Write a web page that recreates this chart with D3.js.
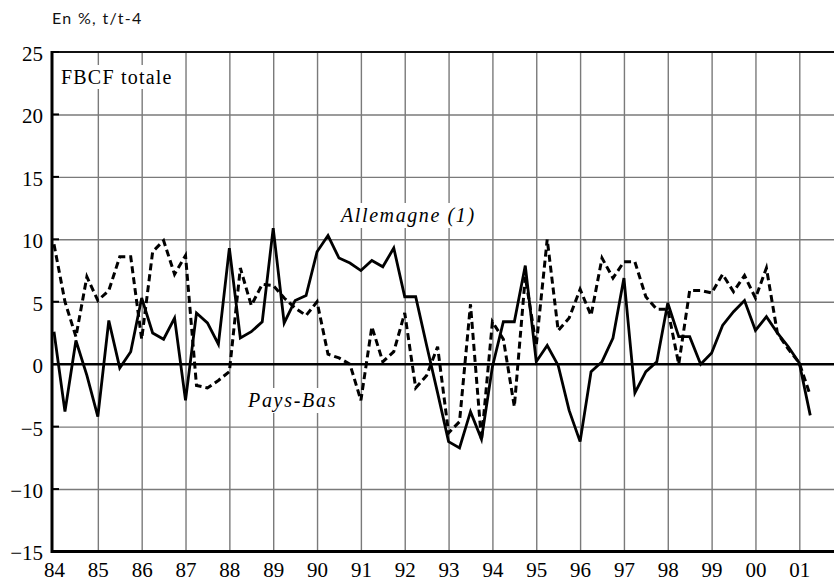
<!DOCTYPE html>
<html><head><meta charset="utf-8">
<script src="https://cdn.jsdelivr.net/npm/d3@7"></script>
<style>body{margin:0;background:#fff;} svg{display:block} .serif{font-family:"Liberation Serif";}</style>
</head><body><svg id="c" width="834" height="582"></svg>
<script>
// ---- data ----
const yearTicks = [1984,1985,1986,1987,1988,1989,1990,1991,1992,1993,1994,1995,1996,1997,1998,1999,2000,2001];
const yearLabels = ["84","85","86","87","88","89","90","91","92","93","94","95","96","97","98","99","00","01"];
const yTicks = [-15,-10,-5,0,5,10,15,20,25];
const firstQuarter = 1984; // 84 T1, quarterly data
const allemagne = [
  2.6,-3.8,1.9,-0.9,
  -4.2,3.5,-0.3,1.0,
  5.3,2.5,2.0,3.7,
  -2.9,4.1,3.3,1.6,
  9.3,2.1,2.6,3.4,
  10.9,3.3,5.1,5.5,
  9.0,10.3,8.5,8.1,
  7.5,8.3,7.8,9.3,
  5.4,5.4,1.5,-2.3,
  -6.2,-6.7,-3.8,-6.0,
  -0.2,3.4,3.4,7.9,
  0.2,1.5,-0.1,-3.7,
  -6.2,-0.6,0.2,2.1,
  6.9,-2.3,-0.6,0.2,
  4.9,2.2,2.2,0.0,
  0.9,3.1,4.2,5.1,
  2.7,3.8,2.5,1.4,
  0.1,-4.1
];
const paysBas = [
  9.6,5.0,2.2,7.0,
  5.1,5.9,8.6,8.6,
  2.0,9.0,9.9,7.2,
  8.7,-1.7,-1.9,-1.3,
  -0.6,7.7,4.7,6.4,
  6.3,5.3,4.5,3.9,
  5.0,0.8,0.5,0.0,
  -2.9,3.0,0.2,1.0,
  4.1,-1.9,-0.9,1.4,
  -5.5,-4.6,4.8,-6.1,
  3.4,2.0,-3.4,7.0,
  1.5,10.0,2.7,3.7,
  6.0,3.9,8.5,6.9,
  8.2,8.2,5.4,4.4,
  4.4,0.0,5.9,5.9,
  5.7,7.2,5.8,7.1,
  5.3,7.7,2.5,1.2,
  0.1,-2.5
];

// ---- chart ----
const W = 834, H = 582;
const svg = d3.select("#c");
const x = d3.scaleLinear().domain([1984, 2001]).range([54, 799.3]);
const y = d3.scaleLinear().domain([-15, 25]).range([551.5, 52]);
const pLeft = 52, pRight = W, pTop = y(25), pBottom = y(-15);

// vertical grid
svg.append("g").attr("transform", `translate(0,${pBottom})`)
  .call(d3.axisBottom(x).tickValues(yearTicks.slice(1)).tickSize(-(pBottom - pTop)).tickFormat(""))
  .call(g => g.select(".domain").remove())
  .selectAll("line").attr("stroke", "#7a7a7a").attr("stroke-width", 1.4);

// horizontal grid
svg.append("g").attr("transform", `translate(${pLeft},0)`)
  .call(d3.axisLeft(y).tickValues(yTicks.filter(v => v !== 0 && v !== -15 && v !== 25)).tickSize(-(pRight - pLeft)).tickFormat(""))
  .call(g => g.select(".domain").remove())
  .selectAll("line").attr("stroke", "#7a7a7a").attr("stroke-width", 1.4);

// zero line, frame
svg.append("line").attr("x1", pLeft).attr("x2", pRight).attr("y1", y(0)).attr("y2", y(0))
  .attr("stroke", "#000").attr("stroke-width", 2.6);
svg.append("line").attr("x1", pLeft).attr("x2", pRight).attr("y1", pTop).attr("y2", pTop)
  .attr("stroke", "#111").attr("stroke-width", 2);

// series
svg.append("clipPath").attr("id", "pc").append("rect")
  .attr("x", pLeft).attr("y", pTop - 10).attr("width", pRight - pLeft).attr("height", pBottom - pTop + 20);
const line = d3.line().x((d, i) => x(firstQuarter + i / 4)).y(d => y(d));
svg.append("path").datum(paysBas).attr("d", line).attr("clip-path", "url(#pc)")
  .attr("fill", "none").attr("stroke", "#000").attr("stroke-width", 3)
  .attr("stroke-dasharray", "7,4").attr("stroke-linejoin", "miter");
svg.append("path").datum(allemagne).attr("d", line).attr("clip-path", "url(#pc)")
  .attr("fill", "none").attr("stroke", "#000").attr("stroke-width", 2.8)
  .attr("stroke-linejoin", "miter");

// axes lines
svg.append("line").attr("x1", pLeft).attr("x2", pRight).attr("y1", pBottom).attr("y2", pBottom)
  .attr("stroke", "#000").attr("stroke-width", 3);
svg.append("line").attr("x1", pLeft).attr("x2", pLeft).attr("y1", pTop - 1).attr("y2", pBottom + 1.5)
  .attr("stroke", "#000").attr("stroke-width", 3);

// y axis ticks + labels
const yAxis = svg.append("g").attr("transform", `translate(${pLeft},0)`)
  .call(d3.axisLeft(y).tickValues(yTicks).tickSize(0).tickPadding(9).tickFormat(d3.format("d")));
yAxis.select(".domain").remove();
yAxis.attr("font-family", null).attr("font-size", null);
yAxis.selectAll("text").attr("class", "serif").attr("font-size", 21).attr("fill", "#000")
  .attr("dy", "0.4em");
svg.append("g").selectAll("line").data(yTicks).join("line")
  .attr("x1", pLeft).attr("x2", pLeft + 7).attr("y1", d => y(d)).attr("y2", d => y(d))
  .attr("stroke", "#000").attr("stroke-width", 2);

// x axis labels
const xAxis = svg.append("g").attr("transform", `translate(0,${pBottom})`)
  .call(d3.axisBottom(x).tickValues(yearTicks).tickSize(0).tickPadding(8)
    .tickFormat((d, i) => yearLabels[i]));
xAxis.select(".domain").remove();
xAxis.attr("font-family", null).attr("font-size", null);
xAxis.selectAll("text").attr("class", "serif").attr("font-size", 21).attr("fill", "#000")
  .attr("dy", "0.85em");

// texts with white boxes
function boxedText(tx, ty, str, opts) {
  const g = svg.append("g");
  const r = g.append("rect").attr("fill", "#fff");
  const t = g.append("text").attr("class", "serif").attr("x", tx).attr("y", ty).text(str)
    .attr("font-size", opts.size)
    .attr("font-style", opts.italic ? "italic" : "normal")
    .attr("letter-spacing", opts.ls).attr("fill", "#000");
  const b = t.node().getBBox();
  r.attr("x", b.x - 3).attr("y", b.y - 1).attr("width", b.width + 6).attr("height", b.height + 2);
}
boxedText(61, 84, "FBCF totale", {size: 20, ls: 1.2});
boxedText(341, 222, "Allemagne (1)", {size: 20, italic: true, ls: 1.6});
boxedText(248, 407, "Pays-Bas", {size: 20, italic: true, ls: 1.7});

svg.append("text").attr("x", 52).attr("y", 24).text("En %, t/t-4")
  .attr("font-family", "Lato").attr("font-size", 16)
  .attr("letter-spacing", 1.3).attr("fill", "#111");
</script></body></html>
